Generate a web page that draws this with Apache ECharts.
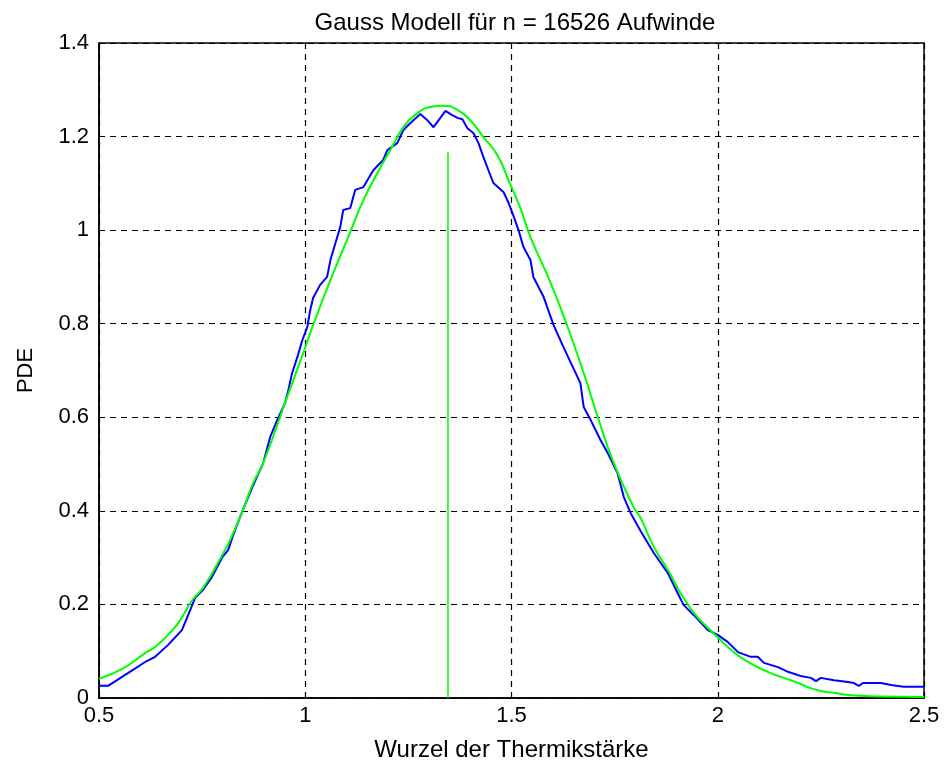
<!DOCTYPE html>
<html>
<head>
<meta charset="utf-8">
<script src="https://cdn.jsdelivr.net/npm/echarts@6/dist/echarts.min.js"></script>
<style>
html,body{margin:0;padding:0;background:#fff;}
#chart{width:949px;height:764px;}
</style>
</head>
<body>
<div id="chart"></div>
<script>
const titleText = "Gauss Modell für n = 16526 Aufwinde";
const xAxisName = "Wurzel der Thermikstärke";
const yAxisName = "PDE";
const xTicks = [0.5, 1, 1.5, 2, 2.5];
const yTicks = [0, 0.2, 0.4, 0.6, 0.8, 1, 1.2, 1.4];

// measured (blue) density
const measuredX = [0.500,0.522,0.570,0.612,0.636,0.667,0.701,0.721,0.733,0.752,0.774,0.799,0.813,0.823,0.842,0.862,0.874,0.898,0.915,0.932,0.951,0.959,0.968,0.981,0.993,1.005,1.012,1.019,1.036,1.053,1.061,1.073,1.085,1.092,1.109,1.121,1.141,1.165,1.189,1.199,1.223,1.238,1.255,1.279,1.296,1.311,1.340,1.352,1.369,1.381,1.393,1.408,1.420,1.432,1.444,1.456,1.481,1.493,1.505,1.517,1.529,1.546,1.553,1.578,1.602,1.626,1.643,1.667,1.675,1.692,1.716,1.733,1.757,1.772,1.789,1.813,1.845,1.879,1.903,1.917,1.942,1.976,2.000,2.024,2.049,2.080,2.097,2.112,2.146,2.170,2.201,2.226,2.238,2.250,2.282,2.316,2.330,2.342,2.352,2.396,2.420,2.451,2.500];
const measuredY = [0.026,0.026,0.053,0.077,0.088,0.113,0.145,0.188,0.214,0.231,0.259,0.301,0.316,0.342,0.387,0.430,0.455,0.502,0.558,0.594,0.630,0.658,0.694,0.729,0.765,0.793,0.829,0.855,0.883,0.900,0.936,0.972,1.007,1.043,1.047,1.086,1.092,1.128,1.150,1.171,1.186,1.214,1.229,1.248,1.235,1.220,1.255,1.248,1.240,1.237,1.218,1.207,1.186,1.156,1.128,1.101,1.081,1.058,1.030,1.000,0.964,0.936,0.900,0.857,0.797,0.750,0.718,0.673,0.622,0.594,0.551,0.524,0.481,0.430,0.395,0.357,0.310,0.267,0.224,0.199,0.177,0.145,0.135,0.120,0.098,0.088,0.088,0.075,0.066,0.056,0.047,0.043,0.036,0.043,0.038,0.034,0.032,0.026,0.032,0.032,0.028,0.024,0.024];

// Gauss model (green)
const modelX = [0.500,0.556,0.612,0.636,0.667,0.692,0.726,0.752,0.799,0.818,0.847,0.874,0.898,0.956,0.995,1.019,1.061,1.109,1.141,1.175,1.206,1.238,1.272,1.303,1.335,1.369,1.400,1.432,1.466,1.494,1.522,1.546,1.595,1.636,1.675,1.709,1.748,1.796,1.813,1.845,1.879,1.910,1.942,1.976,2.000,2.032,2.073,2.121,2.160,2.201,2.218,2.250,2.282,2.323,2.396,2.500];
const modelY = [0.041,0.062,0.096,0.109,0.135,0.160,0.209,0.235,0.306,0.338,0.398,0.460,0.502,0.643,0.737,0.797,0.893,0.996,1.064,1.122,1.171,1.220,1.250,1.263,1.266,1.257,1.235,1.199,1.160,1.104,1.046,0.985,0.887,0.793,0.695,0.601,0.502,0.408,0.385,0.323,0.274,0.224,0.182,0.150,0.130,0.103,0.077,0.056,0.043,0.030,0.023,0.015,0.011,0.006,0.003,0.002];

// mean marker (green vertical line)
const meanX = [1.346, 1.346];
const meanY = [0, 1.167];

const pairs = (xs, ys) => xs.map((x, i) => [x, ys[i]]);

const chart = echarts.init(document.getElementById('chart'), null, {renderer: 'canvas'});
const font = 'Liberation Sans, Arial, sans-serif';
chart.setOption({
  backgroundColor: '#ffffff',
  animation: false,
  title: {
    text: titleText,
    left: 510, top: 6, textAlign: 'center',
    textStyle: {fontFamily: font, fontSize: 24, fontWeight: 'normal', color: '#000'}
  },
  grid: {left: 99, right: 25, top: 43, bottom: 66, outerBoundsMode: 'none', containLabel: false,
         show: true, borderColor: '#000', borderWidth: 1.5, backgroundColor: '#fff'},
  xAxis: {
    type: 'value', min: xTicks[0], max: xTicks[xTicks.length - 1], interval: 0.5,
    name: xAxisName, nameLocation: 'middle', nameGap: 40,
    nameTextStyle: {fontFamily: font, fontSize: 24, color: '#000'},
    axisLine: {show: true, lineStyle: {color: '#000', width: 1.5}},
    axisTick: {show: true, inside: true, length: 6, lineStyle: {color: '#000'}},
    axisLabel: {fontFamily: font, fontSize: 22, color: '#000', margin: 7},
    splitLine: {show: true, lineStyle: {color: '#000', type: [6, 5], width: 1.2}}
  },
  yAxis: {
    type: 'value', min: yTicks[0], max: yTicks[yTicks.length - 1], interval: 0.2,
    name: yAxisName, nameLocation: 'middle', nameGap: 62, nameRotate: 90,
    nameTextStyle: {fontFamily: font, fontSize: 22, color: '#000'},
    axisLine: {show: true, lineStyle: {color: '#000', width: 1.5}},
    axisTick: {show: true, inside: true, length: 6, lineStyle: {color: '#000'}},
    axisLabel: {fontFamily: font, fontSize: 22, color: '#000', margin: 10},
    splitLine: {show: true, lineStyle: {color: '#000', type: [6, 5], width: 1.2}}
  },
  series: [
    {type: 'line', data: pairs(measuredX, measuredY), showSymbol: false, smooth: false,
     lineStyle: {color: '#0000ff', width: 2}, z: 3},
    {type: 'line', data: pairs(modelX, modelY), showSymbol: false, smooth: true,
     lineStyle: {color: '#00ff00', width: 2}, z: 4},
    {type: 'line', data: pairs(meanX, meanY), showSymbol: false,
     lineStyle: {color: '#00ff00', width: 1.5}, z: 4}
  ]
});
</script>
</body>
</html>
